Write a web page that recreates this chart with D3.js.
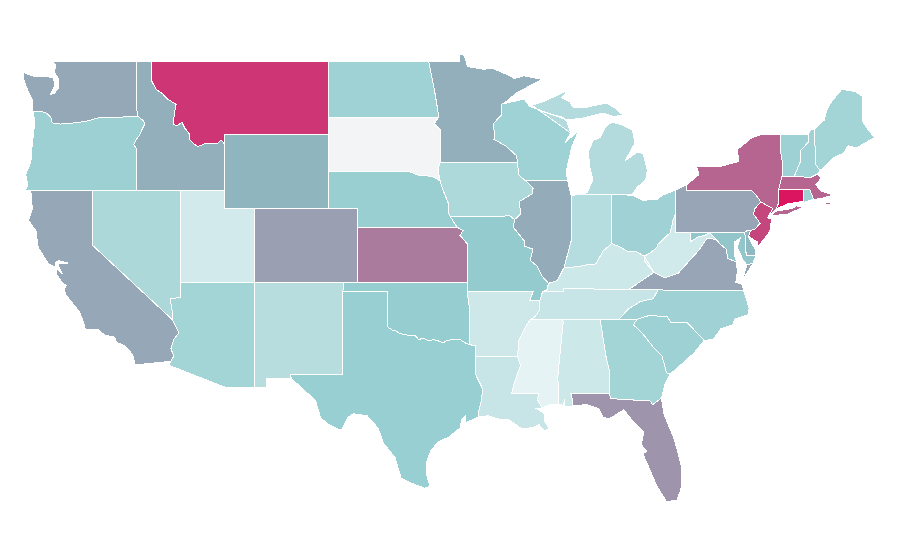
<!DOCTYPE html>
<html>
<head>
<meta charset="utf-8">
<script src="https://d3js.org/d3.v7.min.js"></script>
<style>
  body { margin: 0; background: #fff; }
  path { stroke: #fff; stroke-width: 1; shape-rendering: crispEdges; }
</style>
</head>
<body>
<script>
var rev = function(a) { return a.slice().reverse(); };

// shared borders, [lon, lat]
var snake = [[-116.92,46],[-116.55,45.75],[-116.47,45.6],[-116.68,45.25],[-116.85,44.95],[-117.05,44.75],[-117.22,44.45],[-117.03,44.25],[-117.03,44]];
var bitterroot = [[-116.05,48],[-115.7,47.45],[-115.3,47.25],[-114.95,46.95],[-114.35,46.65],[-114.45,46.2],[-114.55,45.6],[-114.3,45.48],[-113.95,45.68],[-113.75,45.35],[-113.45,45.05],[-113.45,44.75],[-113.05,44.45],[-112.85,44.37],[-112.3,44.55],[-111.5,44.55],[-111.3,44.72],[-111.05,44.48]];
var columbia = [[-124,46.25],[-123.4,46.25],[-123.1,46.15],[-122.8,45.9],[-122.75,45.65],[-122.2,45.58],[-121.2,45.65],[-120.5,45.72],[-119.6,45.92],[-119,45.93],[-116.92,46]];
var mnDakota = [[-97.23,49],[-97.1,48.5],[-96.85,47.5],[-96.6,46.3],[-96.56,45.94]];
var mnSd = [[-96.56,45.94],[-96.85,45.6],[-96.45,45.3],[-96.45,43.5]];
var sdIa = [[-96.45,43.5],[-96.6,43.1],[-96.45,42.5]];
var sdNe = [[-98.5,43],[-97.9,42.8],[-97,42.75],[-96.45,42.5]];
var neIa = [[-96.45,42.5],[-96.25,42],[-96.1,41.7],[-95.9,41.3],[-95.85,40.7],[-95.77,40.58]];
var neMo = [[-95.77,40.58],[-95.31,40]];
var ksMo = [[-95.31,40],[-94.9,39.8],[-95.1,39.55],[-94.62,39.1],[-94.62,37]];
var stCroix = [[-92.3,46.66],[-92.29,46.08],[-92.85,45.6],[-92.75,45],[-92.8,44.75],[-92,44.4],[-91.25,43.85],[-91.22,43.5]];
var iaWi = [[-91.22,43.5],[-91.1,42.8],[-90.65,42.5]];
var iaIl = [[-90.65,42.5],[-90.15,42.1],[-90.2,41.8],[-91.05,41.4],[-91.05,41.2],[-91,40.7],[-91.4,40.4]];
var iaMo = [[-91.4,40.4],[-91.7,40.6],[-95.77,40.58]];
var moIl = [[-91.4,40.4],[-91.5,40],[-90.75,39.25],[-90.7,38.95],[-90.15,38.8],[-90.35,38.2],[-89.9,37.9],[-89.5,37.3],[-89.1,36.95]];
var moKy = [[-89.1,36.95],[-89.2,36.6],[-89.5,36.5]];
var moTn = [[-89.5,36.5],[-89.7,36]];
var moAr = [[-89.7,36],[-90.37,36],[-90.15,36.5],[-94.62,36.5]];
var arTn = [[-89.7,36],[-89.7,35.5],[-90.07,35.1],[-90.3,35]];
var arMs = [[-90.3,35],[-90.6,34.7],[-91.1,33.9],[-91.2,33]];
var laMs = [[-91.2,33],[-91,32.5],[-91.4,31.6],[-91.6,31],[-89.75,31],[-89.85,30.65],[-89.55,30.2]];
var ilKy = [[-89.1,36.95],[-88.5,37.1],[-88.05,37.8]];
var inKy = [[-88.05,37.8],[-87.1,37.85],[-86.5,37.95],[-85.9,38],[-85.4,38.7],[-84.82,39.1]];
var ohKy = [[-84.82,39.1],[-84.3,38.95],[-83.7,38.65],[-83.1,38.65],[-82.6,38.42]];
var ohWv = [[-82.6,38.42],[-82.2,38.6],[-81.75,38.9],[-81.7,39.05],[-80.85,39.7],[-80.65,40.4],[-80.52,40.64]];
var kyWv = [[-82.6,38.42],[-82.6,38.17],[-81.97,37.54]];
var kyVa = [[-81.97,37.54],[-83.68,36.6]];
var kyTn = [[-83.68,36.6],[-86.5,36.65],[-88.07,36.68],[-88.05,36.5],[-89.5,36.5]];
var tnNc = [[-81.68,36.59],[-82,36.12],[-82.9,35.95],[-83.7,35.55],[-84.32,35]];
var tnVa = [[-81.68,36.59],[-83.68,36.6]];
var redRiver = [[-100,34.58],[-99.7,34.42],[-99.45,34.38],[-99.17,34.22],[-98.85,34.18],[-98.6,34.12],[-98.15,34.13],[-97.9,33.9],[-97.6,33.98],[-97.2,33.82],[-96.9,33.9],[-96.6,33.84],[-96.25,33.72],[-96,33.85],[-95.6,33.9],[-95.1,33.9],[-94.75,33.72],[-94.49,33.64]];
var txLa = [[-94.04,33],[-94.04,32],[-93.55,31.2],[-93.7,30.4],[-93.85,30],[-93.85,29.7]];
var txAr = [[-94.49,33.64],[-94.04,33.55],[-94.04,33]];
var okAr = [[-94.62,36.5],[-94.43,35.4],[-94.49,33.64]];
var azCa = [[-114.63,35],[-114.5,34.8],[-114.15,34.27],[-114.52,33.9],[-114.7,33.4],[-114.5,33],[-114.72,32.72]];
var azNv = [[-114.05,36.2],[-114.4,36.15],[-114.75,36.1],[-114.57,35.2],[-114.63,35]];
var ncSc = [[-83.1,35],[-82.3,35.2],[-81.05,35.15],[-80.8,34.82],[-79.67,34.8],[-78.55,33.86]];
var gaSc = [[-83.1,35],[-83.35,34.7],[-82.8,34.3],[-82,33.5],[-81.4,33],[-81.1,32.1],[-80.85,32.03]];
var gaFl = [[-81.45,30.72],[-82.05,30.37],[-82.2,30.57],[-84.86,30.7],[-85,31]];
var gaAl = [[-85,31],[-85,32.3],[-85.18,32.87],[-85.6,34.98]];
var alMs = [[-88.2,35],[-88.1,34.9],[-88.47,31.9],[-88.4,30.37]];
var alFl = [[-85,31],[-87.6,31],[-87.45,30.6],[-87.5,30.3]];
var vaWv = [[-81.97,37.54],[-81.2,37.25],[-80.3,37.5],[-79.3,38.4],[-78.9,38.75],[-78.35,39.4],[-77.72,39.32]];
var vaMd = [[-77.72,39.32],[-77.5,39.1],[-77.05,38.8],[-76.95,38.3],[-76.35,38.1]];
var wvMd = [[-77.72,39.32],[-78.2,39.7],[-78.5,39.55],[-79,39.45],[-79.48,39.2],[-79.48,39.72]];
var deBorder = [[-75.79,39.72],[-75.6,39.83],[-75.4,39.8]];
var paNj = [[-75.4,39.8],[-75.1,39.9],[-74.75,40.2],[-75.2,40.7],[-75.13,40.98],[-74.7,41.36]];
var paNy = [[-74.7,41.36],[-75.05,41.75],[-75.35,42],[-79.76,42],[-79.76,42.27]];
var nyNj = [[-74.7,41.36],[-73.9,41],[-74.25,40.5]];
var nyVt = [[-73.35,45],[-73.35,44],[-73.25,43.55],[-73.27,42.75]];
var nyMa = [[-73.27,42.75],[-73.5,42.05]];
var nyCt = [[-73.5,42.05],[-73.5,41.3],[-73.65,41]];
var vtMa = [[-73.27,42.75],[-72.45,42.73]];
var vtNh = [[-71.5,45.01],[-71.5,44.6],[-72.05,44.1],[-72.05,43.5],[-72.45,42.73]];
var nhMa = [[-72.45,42.73],[-71.3,42.7],[-70.85,42.88]];
var nhMe = [[-71.08,45.3],[-70.98,43.4],[-70.7,43.05]];
var ilWi = [[-90.65,42.5],[-87.8,42.5]];
var ohMi = [[-84.8,41.76],[-83.45,41.73]];
var wiMi = [[-90.4,46.55],[-89.1,46.15],[-88.1,45.95],[-87.85,45.7],[-87.6,45.1]];

var names = ["WA","OR","CA","ID","NV","MT","WY","UT","AZ","CO","NM","ND","SD","NE","KS","OK","TX","MN","IA","MO","AR","LA","WI","IL","MI","IN","OH","KY","TN","MS","AL","GA","FL","SC","NC","VA","WV","MD","DE","PA","NY","NJ","CT","RI","MA","VT","NH","ME"];
var values = [54,37,54.5,52,30,90,50,13,34,57,25,35.5,0,38,68,40,38.5,52,29,41,15,18,35.5,53,27,26,35,15.5,18,5,15.5,34,60,36,35,55,14,43,48,55,75,85,100,36,75,36.5,35,34];

var shapes = [
  // WA
  [[[-117.03,49],[-122.76,49],[-122.5,48.75],[-122.6,48.4],[-122.3,48],[-122.35,47.5],[-122.6,47.25],[-122.85,47.2],[-122.55,47.7],[-122.7,48.1],[-123.1,48.15],[-123.9,48.15],[-124.73,48.38],[-124.65,47.9],[-124.35,47.3],[-124.1,46.9],[-124.05,46.3]].concat(columbia,[[-117.04,46.42]])],
  // OR
  [[[-124.55,42],[-124.4,42.3],[-124.55,42.85],[-124.2,43.5],[-124.1,44.5],[-123.95,45.5]].concat(columbia,snake,[[-117.03,42]])],
  // CA
  [[[-124.2,42],[-120,42],[-120,39]].concat(azCa,[[-117.12,32.53],[-117.3,33.1],[-117.9,33.6],[-118.4,33.75],[-118.5,34.03],[-119.2,34.15],[-119.6,34.42],[-120.5,34.45],[-120.65,34.9],[-120.9,35.4],[-121.8,36.3],[-121.95,36.6],[-121.8,36.85],[-122.05,36.95],[-122.5,37.5],[-122.42,37.75],[-122.05,37.45],[-122.35,37.9],[-122.25,38.05],[-121.7,38.05],[-122.3,38.18],[-122.5,38.1],[-122.5,37.83],[-123,38],[-123.7,38.9],[-123.85,39.8],[-124.35,40.35],[-124.1,41]]),
   [[-119.9,34.02],[-119.6,34.02],[-119.6,33.95],[-119.9,33.95]]],
  // ID
  [[[-117.03,49],[-116.05,49]].concat(bitterroot,[[-111.05,42],[-117.03,42]],rev(snake),[[-117.04,46.42]])],
  // NV
  [[[-120,42],[-114.05,42]].concat(azNv,[[-120,39]])],
  // MT
  [[[-116.05,49],[-104.05,49],[-104.05,45],[-111.05,45]].concat(rev(bitterroot))],
  // WY
  [[[-111.05,45],[-104.05,45],[-104.05,41],[-111.05,41]]],
  // UT
  [[[-114.05,42],[-111.05,42],[-111.05,41],[-109.05,41],[-109.05,37],[-114.05,37]]],
  // AZ
  [[[-114.05,37],[-109.05,37],[-109.05,31.33],[-111.07,31.33],[-114.81,32.5]].concat(rev(azCa),rev(azNv))],
  // CO
  [[[-109.05,41],[-102.05,41],[-102.05,37],[-109.05,37]]],
  // NM
  [[[-109.05,37],[-103,37],[-103.04,36.5],[-103.06,32],[-106.62,32],[-106.53,31.78],[-108.2,31.78],[-108.2,31.33],[-109.05,31.33]]],
  // ND
  [[[-104.05,49]].concat(mnDakota,[[-104.05,45.94]])],
  // SD
  [[[-104.05,45.94]].concat(mnSd,sdIa,rev(sdNe),[[-104.05,43]])],
  // NE
  [[[-104.05,43]].concat(sdNe,neIa,neMo,[[-102.05,40],[-102.05,41],[-104.05,41]])],
  // KS
  [[[-102.05,40]].concat(ksMo,[[-102.05,37]])],
  // OK
  [[[-103,37],[-94.62,37]].concat(okAr,rev(redRiver),[[-100,36.5],[-103.04,36.5]])],
  // TX
  [[[-106.62,32],[-103.06,32],[-103.04,36.5],[-100,36.5]].concat(redRiver,txAr,txLa,[[-94.7,29.4],[-94.75,29.75],[-95,29.55],[-95.1,29.1],[-95.9,28.6],[-96.6,28.35],[-97.1,27.85],[-97.35,27.3],[-97.4,26.7],[-97.15,25.95],[-97.5,25.85],[-98.2,26.05],[-99.1,26.4],[-99.5,27.5],[-100.3,28.3],[-100.65,29.1],[-101.4,29.77],[-102.3,29.88],[-102.7,29.7],[-103.15,28.98],[-104,29.3],[-104.55,29.65],[-104.9,30.6],[-106,31.4],[-106.53,31.78]])],
  // MN
  [[[-97.23,49],[-95.15,49],[-95.15,49.38],[-94.8,49.3],[-94.6,48.7],[-93.5,48.55],[-92.9,48.6],[-92,48.3],[-91.4,48.05],[-90.8,48.2],[-89.5,48],[-90.5,47.6],[-91.3,47.25],[-92.05,46.75]].concat(stCroix,[[-96.45,43.5]],rev(mnSd),rev(mnDakota))],
  // IA
  [[[-96.45,43.5],[-91.22,43.5]].concat(iaWi,iaIl,iaMo,rev(neIa),rev(sdIa))],
  // MO
  [[[-95.77,40.58]].concat(rev(iaMo),moIl,moKy,moTn,moAr,[[-94.62,37]],rev(ksMo),rev(neMo))],
  // AR
  [[[-94.62,36.5]].concat(rev(moAr),arTn,arMs,rev(txAr),rev(okAr))],
  // LA
  [[[-94.04,33]].concat(laMs,[[-89.9,30.15],[-89.4,29.9],[-89.4,29.5],[-89.05,29.1],[-89.4,28.95],[-89.75,29.3],[-90.1,29.15],[-90.9,29.05],[-91.3,29.3],[-91.9,29.6],[-92.3,29.55],[-93.2,29.77]],rev(txLa))],
  // WI
  [[[-92.3,46.66],[-91.2,46.85],[-90.75,46.95]].concat(wiMi,[[-88,44.55],[-87.05,45.25],[-87.5,44.4],[-87.78,43.47],[-87.9,43],[-87.8,42.5]],rev(ilWi),rev(iaWi),rev(stCroix))],
  // IL
  [[[-90.65,42.5],[-87.8,42.5],[-87.6,41.8],[-87.53,41.7],[-87.53,39.35]].concat(rev(ilKy),rev(moIl),rev(iaIl))],
  // MI
  [[[-87.2,41.75],[-84.8,41.76],[-83.4,41.78],[-83.15,42.1],[-82.5,42.6],[-82.4,43.1],[-82.7,44],[-83.1,44.05],[-83.9,43.6],[-83.24,44.55],[-83.4,45.25],[-84,45.5],[-84.8,45.7],[-85.27,45.4],[-85.6,44.85],[-86.07,44.7],[-86.4,44.07],[-86.3,43.25],[-86.08,42.55],[-86.5,41.85]],
   rev(wiMi).concat([[-87.85,45.8],[-86.83,45.9],[-85.4,46.18],[-84.7,45.98],[-84.05,46.07],[-84.6,46.45],[-85.14,46.72],[-86.5,46.5],[-87.44,46.5],[-87.64,46.78],[-88.2,47.0],[-87.78,47.43],[-88.46,47.16],[-89.3,46.85],[-90.22,46.6]])],
  // IN
  [[[-87.53,41.7],[-87.2,41.75],[-84.8,41.76]].concat(rev(inKy),[[-87.53,39.35]])],
  // OH
  [[[-84.82,39.1]].concat(ohKy,ohWv,[[-80.52,42],[-81.3,41.75],[-81.75,41.5],[-82.7,41.45]],rev(ohMi))],
  // KY
  [[[-89.5,36.5]].concat(rev(moKy),ilKy,inKy,ohKy,kyWv,kyVa,kyTn)],
  // TN
  [[[-90.3,35],[-88.2,35],[-85.6,34.98],[-84.32,35]].concat(rev(tnNc),tnVa,kyTn,moTn,arTn)],
  // MS
  [[[-90.3,35],[-88.2,35]].concat(alMs,[[-88.9,30.4]],rev(laMs),rev(arMs))],
  // AL
  [[[-88.2,35],[-85.6,34.98]].concat(rev(gaAl),alFl,[[-88,30.25],[-88,30.7],[-88.1,30.35]],rev(alMs))],
  // GA
  [[[-85.6,34.98],[-84.32,35],[-83.1,35]].concat(gaSc,[[-81.2,31.5]],gaFl,gaAl)],
  // FL
  [[[-87.6,31],[-85,31]].concat(rev(gaFl),[[-81.25,29.8],[-80.55,28.45],[-80.05,26.9],[-80.12,25.8],[-80.4,25.2],[-81.1,25.12],[-81.75,25.95],[-82.15,26.7],[-82.7,27.7],[-82.45,27.85],[-82.8,28.2],[-82.65,28.9],[-83.4,29.5],[-84,30.1],[-85,29.6],[-85.4,29.7],[-85.7,30.15],[-86.5,30.38],[-87.5,30.3],[-87.45,30.6]])],
  // SC
  [ncSc.concat([[-79.2,33.2],[-79.9,32.7],[-80.45,32.3]],rev(gaSc))],
  // NC
  [[[-84.32,35]].concat(ncSc,[[-77.95,33.9],[-77.4,34.5],[-76.6,34.7],[-76.5,35],[-75.55,35.25],[-75.5,35.6],[-75.87,36.55]],tnNc)],
  // VA
  [[[-83.68,36.6],[-81.68,36.59],[-75.87,36.55],[-75.98,36.9],[-76.4,37],[-76.3,37.6]].concat(rev(vaMd),rev(vaWv),kyVa),
   [[-75.95,37.15],[-75.65,37.95],[-75.25,38.03],[-75.6,37.55]]],
  // WV
  [vaWv.concat(wvMd,[[-80.52,39.72]],rev(ohWv),rev(kyWv))],
  // MD
  [[[-79.48,39.72],[-75.79,39.72],[-75.7,38.46],[-75.05,38.45],[-75.25,38.03],[-75.65,37.95],[-75.9,38.2],[-76.3,38.9],[-76.1,39.4],[-76.5,39.2],[-76.5,38.5],[-76.35,38.1]].concat(rev(vaMd),wvMd)],
  // DE
  [deBorder.concat([[-75.55,39.45],[-75.1,38.8],[-75.05,38.45],[-75.7,38.46]])],
  // PA
  [[[-80.52,42],[-80.1,42.15],[-79.76,42.27]].concat(rev(paNy),rev(paNj),rev(deBorder),[[-80.52,39.72]])],
  // NY
  [[[-79.76,42.27],[-78.9,42.85],[-79.05,43.27],[-77.5,43.27],[-76.5,43.5],[-76.2,43.55],[-76.3,44.2],[-75.3,44.85],[-74.7,45]].concat(nyVt,nyMa,nyCt,[[-73.9,40.8],[-74,40.7]],rev(nyNj),paNy),
   [[-74.05,40.6],[-73.75,40.85],[-72.6,41],[-72.3,41.15],[-71.87,41.07],[-72.9,40.7]]],
  // NJ
  [nyNj.concat([[-73.98,40.45],[-74.1,39.75],[-74.9,38.93],[-74.95,39.2],[-75.55,39.5]],paNj)],
  // CT
  [[[-73.5,42.05],[-71.8,42.02],[-71.8,41.4],[-72.9,41.25],[-73.65,41],[-73.5,41.3]]],
  // RI
  [[[-71.8,42.02],[-71.38,42.02],[-71.13,41.5],[-71.85,41.32],[-71.8,41.4]]],
  // MA
  [[[-73.27,42.75],[-72.45,42.73],[-71.3,42.7],[-70.85,42.88],[-70.6,42.65],[-71,42.3],[-70.6,41.95],[-70,41.8],[-70.25,42.07],[-69.95,41.7],[-70.6,41.55],[-71.13,41.5],[-71.38,42.02],[-71.8,42.02],[-73.5,42.05]],
   [[-70.3,41.32],[-69.98,41.3],[-70,41.23],[-70.3,41.25]]],
  // VT
  [[[-73.35,45]].concat(vtNh,rev(vtMa),rev(nyVt))],
  // NH
  [[[-71.5,45.01],[-71.3,45.3],[-71.08,45.3]].concat(nhMe,[[-70.85,42.88]],rev(nhMa),rev(vtNh))],
  // ME
  [[[-71.08,45.3],[-70.4,45.8],[-70.25,46.3],[-70,46.7],[-69.23,47.46],[-68.3,47.35],[-67.8,47.07],[-67.8,45.7],[-67.45,45.3],[-67,44.85],[-68.2,44.3],[-68.8,44.4],[-69.1,44],[-69.8,43.75]].concat(rev(nhMe))]
];

var width = 900, height = 560;

var xScale = d3.scaleLinear().domain([-117, -67]).range([137, 874.5]);
var yScale = d3.scaleLinear().domain([49, 25]).range([61, 503.8]);

var color = d3.scaleLinear()
  .domain([0, 5, 40, 50, 100])
  .range(["#f3f4f6", "#e5f3f4", "#95cdd0", "#8fb5bf", "#dc1561"]);

var transform = d3.geoTransform({
  point: function(lon, lat) { this.stream.point(xScale(lon), yScale(lat)); }
});
var path = d3.geoPath().projection(transform);

var svg = d3.select("body").append("svg")
  .attr("width", width)
  .attr("height", height);

svg.selectAll("path")
  .data(names)
  .enter()
  .append("path")
  .attr("d", function(d, i) {
    return path({
      type: "MultiPolygon",
      coordinates: shapes[i].map(function(ring) { return [ring.concat([ring[0]])]; })
    });
  })
  .attr("fill", function(d, i) { return color(values[i]); });
</script>
</body>
</html>
